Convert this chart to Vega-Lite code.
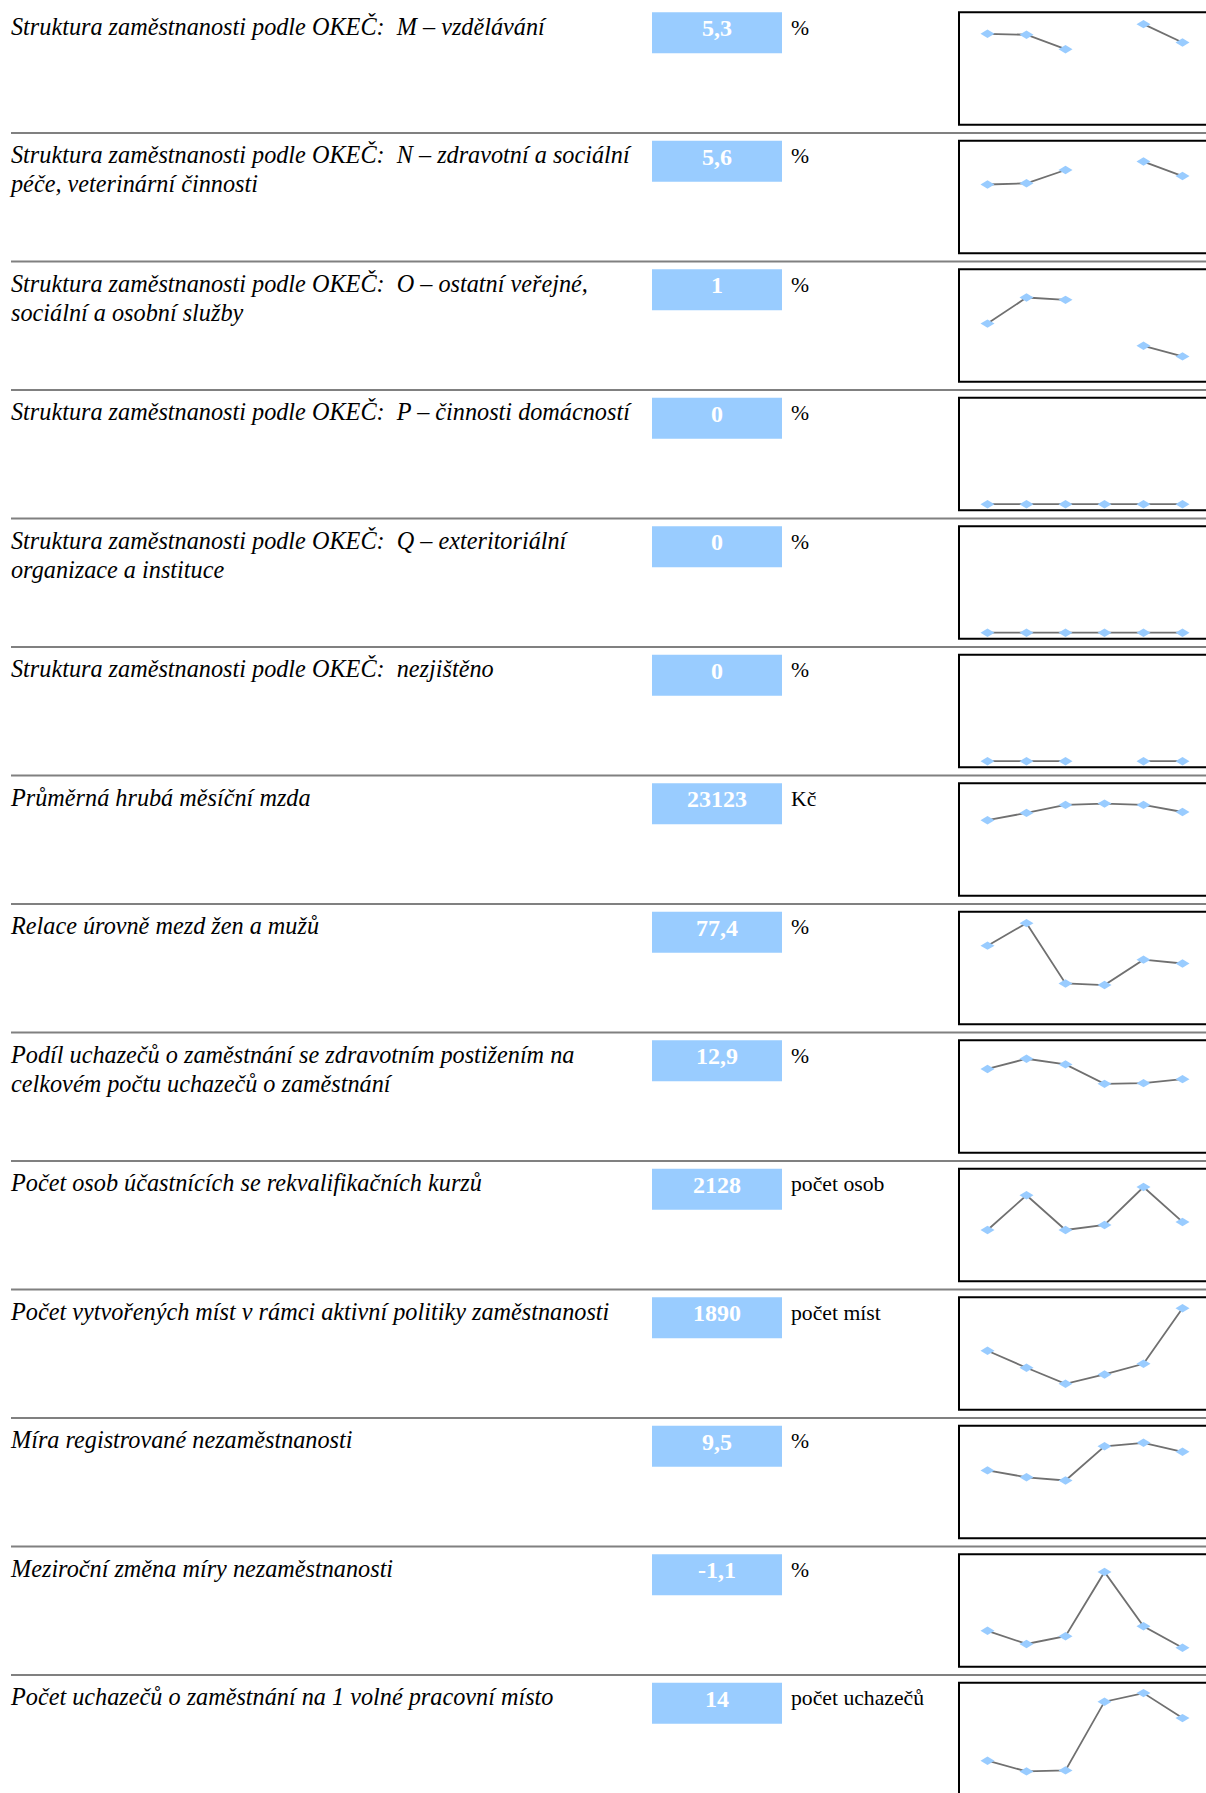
{
"$schema": "https://vega.github.io/schema/vega-lite/v6.json",
"background": "white",
"padding": {"left": 11, "top": 11.2, "right": 0, "bottom": 0},
"config": {"view": {"stroke": null}, "locale": {"number": {"decimal": ",", "thousands": " ", "grouping": [3], "currency": ["", " Kč"], "minus": "-"}}},
"datasets": {
"ukazatele": [
{"id": 1, "popis": "Struktura zaměstnanosti podle OKEČ:\u00a0 M – vzdělávání", "hodnota": 5.3, "jednotka": "%"},
{"id": 2, "popis": "Struktura zaměstnanosti podle OKEČ:\u00a0 N – zdravotní a sociální\npéče, veterinární činnosti", "hodnota": 5.6, "jednotka": "%"},
{"id": 3, "popis": "Struktura zaměstnanosti podle OKEČ:\u00a0 O – ostatní veřejné,\nsociální a osobní služby", "hodnota": 1, "jednotka": "%"},
{"id": 4, "popis": "Struktura zaměstnanosti podle OKEČ:\u00a0 P – činnosti domácností", "hodnota": 0, "jednotka": "%"},
{"id": 5, "popis": "Struktura zaměstnanosti podle OKEČ:\u00a0 Q – exteritoriální\norganizace a instituce", "hodnota": 0, "jednotka": "%"},
{"id": 6, "popis": "Struktura zaměstnanosti podle OKEČ:\u00a0 nezjištěno", "hodnota": 0, "jednotka": "%"},
{"id": 7, "popis": "Průměrná hrubá měsíční mzda", "hodnota": 23123, "jednotka": "Kč"},
{"id": 8, "popis": "Relace úrovně mezd žen a mužů", "hodnota": 77.4, "jednotka": "%"},
{"id": 9, "popis": "Podíl uchazečů o zaměstnání se zdravotním postižením na\ncelkovém počtu uchazečů o zaměstnání", "hodnota": 12.9, "jednotka": "%"},
{"id": 10, "popis": "Počet osob účastnících se rekvalifikačních kurzů", "hodnota": 2128, "jednotka": "počet osob"},
{"id": 11, "popis": "Počet vytvořených míst v rámci aktivní politiky zaměstnanosti", "hodnota": 1890, "jednotka": "počet míst"},
{"id": 12, "popis": "Míra registrované nezaměstnanosti", "hodnota": 9.5, "jednotka": "%"},
{"id": 13, "popis": "Meziroční změna míry nezaměstnanosti", "hodnota": -1.1, "jednotka": "%"},
{"id": 14, "popis": "Počet uchazečů o zaměstnání na 1 volné pracovní místo", "hodnota": 14, "jednotka": "počet uchazečů"}
],
"rady": [
{"id": 1, "rok": 2003, "hodnota": 5.38, "usek": "a"},{"id": 1, "rok": 2004, "hodnota": 5.37, "usek": "a"},{"id": 1, "rok": 2005, "hodnota": 5.22, "usek": "a"},{"id": 1, "rok": 2007, "hodnota": 5.48, "usek": "b"},{"id": 1, "rok": 2008, "hodnota": 5.29, "usek": "b"},
{"id": 2, "rok": 2003, "hodnota": 5.52, "usek": "a"},{"id": 2, "rok": 2004, "hodnota": 5.53, "usek": "a"},{"id": 2, "rok": 2005, "hodnota": 5.64, "usek": "a"},{"id": 2, "rok": 2007, "hodnota": 5.71, "usek": "b"},{"id": 2, "rok": 2008, "hodnota": 5.59, "usek": "b"},
{"id": 3, "rok": 2003, "hodnota": 2.7, "usek": "a"},{"id": 3, "rok": 2004, "hodnota": 4.05, "usek": "a"},{"id": 3, "rok": 2005, "hodnota": 3.93, "usek": "a"},{"id": 3, "rok": 2007, "hodnota": 1.55, "usek": "b"},{"id": 3, "rok": 2008, "hodnota": 1.0, "usek": "b"},
{"id": 4, "rok": 2003, "hodnota": 0, "usek": "a"},{"id": 4, "rok": 2004, "hodnota": 0, "usek": "a"},{"id": 4, "rok": 2005, "hodnota": 0, "usek": "a"},{"id": 4, "rok": 2006, "hodnota": 0, "usek": "a"},{"id": 4, "rok": 2007, "hodnota": 0, "usek": "a"},{"id": 4, "rok": 2008, "hodnota": 0, "usek": "a"},
{"id": 5, "rok": 2003, "hodnota": 0, "usek": "a"},{"id": 5, "rok": 2004, "hodnota": 0, "usek": "a"},{"id": 5, "rok": 2005, "hodnota": 0, "usek": "a"},{"id": 5, "rok": 2006, "hodnota": 0, "usek": "a"},{"id": 5, "rok": 2007, "hodnota": 0, "usek": "a"},{"id": 5, "rok": 2008, "hodnota": 0, "usek": "a"},
{"id": 6, "rok": 2003, "hodnota": 0, "usek": "a"},{"id": 6, "rok": 2004, "hodnota": 0, "usek": "a"},{"id": 6, "rok": 2005, "hodnota": 0, "usek": "a"},{"id": 6, "rok": 2007, "hodnota": 0, "usek": "b"},{"id": 6, "rok": 2008, "hodnota": 0, "usek": "b"},
{"id": 7, "rok": 2003, "hodnota": 22741, "usek": "a"},{"id": 7, "rok": 2004, "hodnota": 23082, "usek": "a"},{"id": 7, "rok": 2005, "hodnota": 23455, "usek": "a"},{"id": 7, "rok": 2006, "hodnota": 23515, "usek": "a"},{"id": 7, "rok": 2007, "hodnota": 23455, "usek": "a"},{"id": 7, "rok": 2008, "hodnota": 23123, "usek": "a"},
{"id": 8, "rok": 2003, "hodnota": 78.51, "usek": "a"},{"id": 8, "rok": 2004, "hodnota": 79.91, "usek": "a"},{"id": 8, "rok": 2005, "hodnota": 76.16, "usek": "a"},{"id": 8, "rok": 2006, "hodnota": 76.06, "usek": "a"},{"id": 8, "rok": 2007, "hodnota": 77.64, "usek": "a"},{"id": 8, "rok": 2008, "hodnota": 77.4, "usek": "a"},
{"id": 9, "rok": 2003, "hodnota": 13.64, "usek": "a"},{"id": 9, "rok": 2004, "hodnota": 14.38, "usek": "a"},{"id": 9, "rok": 2005, "hodnota": 13.97, "usek": "a"},{"id": 9, "rok": 2006, "hodnota": 12.56, "usek": "a"},{"id": 9, "rok": 2007, "hodnota": 12.61, "usek": "a"},{"id": 9, "rok": 2008, "hodnota": 12.9, "usek": "a"},
{"id": 10, "rok": 2003, "hodnota": 1882, "usek": "a"},{"id": 10, "rok": 2004, "hodnota": 2943, "usek": "a"},{"id": 10, "rok": 2005, "hodnota": 1882, "usek": "a"},{"id": 10, "rok": 2006, "hodnota": 2035, "usek": "a"},{"id": 10, "rok": 2007, "hodnota": 3196, "usek": "a"},{"id": 10, "rok": 2008, "hodnota": 2128, "usek": "a"},
{"id": 11, "rok": 2003, "hodnota": 1047, "usek": "a"},{"id": 11, "rok": 2004, "hodnota": 711, "usek": "a"},{"id": 11, "rok": 2005, "hodnota": 394, "usek": "a"},{"id": 11, "rok": 2006, "hodnota": 578, "usek": "a"},{"id": 11, "rok": 2007, "hodnota": 790, "usek": "a"},{"id": 11, "rok": 2008, "hodnota": 1890, "usek": "a"},
{"id": 12, "rok": 2003, "hodnota": 8.69, "usek": "a"},{"id": 12, "rok": 2004, "hodnota": 8.39, "usek": "a"},{"id": 12, "rok": 2005, "hodnota": 8.25, "usek": "a"},{"id": 12, "rok": 2006, "hodnota": 9.74, "usek": "a"},{"id": 12, "rok": 2007, "hodnota": 9.89, "usek": "a"},{"id": 12, "rok": 2008, "hodnota": 9.5, "usek": "a"},
{"id": 13, "rok": 2003, "hodnota": -0.57, "usek": "a"},{"id": 13, "rok": 2004, "hodnota": -0.98, "usek": "a"},{"id": 13, "rok": 2005, "hodnota": -0.74, "usek": "a"},{"id": 13, "rok": 2006, "hodnota": 1.26, "usek": "a"},{"id": 13, "rok": 2007, "hodnota": -0.43, "usek": "a"},{"id": 13, "rok": 2008, "hodnota": -1.1, "usek": "a"},
{"id": 14, "rok": 2003, "hodnota": 5.61, "usek": "a"},{"id": 14, "rok": 2004, "hodnota": 3.5, "usek": "a"},{"id": 14, "rok": 2005, "hodnota": 3.7, "usek": "a"},{"id": 14, "rok": 2006, "hodnota": 17.23, "usek": "a"},{"id": 14, "rok": 2007, "hodnota": 18.92, "usek": "a"},{"id": 14, "rok": 2008, "hodnota": 14, "usek": "a"}
]
},
"spacing": 5.75,
"vconcat": [
{"bounds": "flush", "spacing": 9, "hconcat": [
 {"width": 632, "height": 45.5, "data": {"name": "ukazatele"}, "transform": [{"filter": "datum.id == 1"}], "mark": {"type": "text", "align": "left", "baseline": "alphabetic", "font": "Liberation Serif", "fontStyle": "italic", "fontSize": 24.25, "lineHeight": 28.6, "lineBreak": "\n", "color": "#000000"}, "encoding": {"text": {"field": "popis", "type": "nominal"}, "x": {"datum": 0, "type": "quantitative", "scale": {"domain": [0, 1], "nice": false}, "axis": null}}},
 {"width": 130, "height": 41, "data": {"name": "ukazatele"}, "transform": [{"filter": "datum.id == 1"}], "layer": [{"mark": {"type": "bar", "color": "#99ccff"}, "encoding": {}}, {"mark": {"type": "text", "baseline": "alphabetic", "dy": 3.5, "font": "Liberation Serif", "fontWeight": "bold", "fontSize": 24, "color": "#ffffff"}, "encoding": {"text": {"field": "hodnota", "type": "quantitative", "format": ".1~f"}}}]},
 {"width": 158.7, "height": 45.5, "data": {"name": "ukazatele"}, "transform": [{"filter": "datum.id == 1"}], "mark": {"type": "text", "align": "left", "baseline": "alphabetic", "font": "Liberation Serif", "fontSize": 21.7, "color": "#000000"}, "encoding": {"text": {"field": "jednotka", "type": "nominal"}, "x": {"datum": 0, "type": "quantitative", "scale": {"domain": [0, 1], "nice": false}, "axis": null}}},
 {"width": 252, "height": 112.5, "view": {"stroke": "#000000", "strokeWidth": 2}, "data": {"name": "rady"}, "transform": [{"filter": "datum.id == 1"}], "encoding": {"x": {"field": "rok", "type": "quantitative", "scale": {"domain": [2002.2692, 2008.7308], "nice": false}, "axis": null}, "y": {"field": "hodnota", "type": "quantitative", "scale": {"domain": [4.4378, 5.6036], "nice": false}, "axis": null}}, "layer": [{"mark": {"type": "line", "color": "#707070", "strokeWidth": 1.8}, "encoding": {"detail": {"field": "usek", "type": "nominal"}}}, {"mark": {"type": "point", "shape": "M-1,0L0,-0.6L1,0L0,0.6Z", "filled": true, "color": "#99ccff", "opacity": 1, "size": 196}}]}
]},
{"width": 1200, "height": 2, "data": {"values": [{"oddelovac": 1}]}, "mark": {"type": "bar", "color": "#808080"}, "encoding": {}},
{"bounds": "flush", "spacing": 9, "hconcat": [
 {"width": 632, "height": 45.5, "data": {"name": "ukazatele"}, "transform": [{"filter": "datum.id == 2"}], "mark": {"type": "text", "align": "left", "baseline": "alphabetic", "font": "Liberation Serif", "fontStyle": "italic", "fontSize": 24.25, "lineHeight": 28.6, "lineBreak": "\n", "color": "#000000"}, "encoding": {"text": {"field": "popis", "type": "nominal"}, "x": {"datum": 0, "type": "quantitative", "scale": {"domain": [0, 1], "nice": false}, "axis": null}}},
 {"width": 130, "height": 41, "data": {"name": "ukazatele"}, "transform": [{"filter": "datum.id == 2"}], "layer": [{"mark": {"type": "bar", "color": "#99ccff"}, "encoding": {}}, {"mark": {"type": "text", "baseline": "alphabetic", "dy": 3.5, "font": "Liberation Serif", "fontWeight": "bold", "fontSize": 24, "color": "#ffffff"}, "encoding": {"text": {"field": "hodnota", "type": "quantitative", "format": ".1~f"}}}]},
 {"width": 158.7, "height": 45.5, "data": {"name": "ukazatele"}, "transform": [{"filter": "datum.id == 2"}], "mark": {"type": "text", "align": "left", "baseline": "alphabetic", "font": "Liberation Serif", "fontSize": 21.7, "color": "#000000"}, "encoding": {"text": {"field": "jednotka", "type": "nominal"}, "x": {"datum": 0, "type": "quantitative", "scale": {"domain": [0, 1], "nice": false}, "axis": null}}},
 {"width": 252, "height": 112.5, "view": {"stroke": "#000000", "strokeWidth": 2}, "data": {"name": "rady"}, "transform": [{"filter": "datum.id == 2"}], "encoding": {"x": {"field": "rok", "type": "quantitative", "scale": {"domain": [2002.2692, 2008.7308], "nice": false}, "axis": null}, "y": {"field": "hodnota", "type": "quantitative", "scale": {"domain": [4.9503, 5.8829], "nice": false}, "axis": null}}, "layer": [{"mark": {"type": "line", "color": "#707070", "strokeWidth": 1.8}, "encoding": {"detail": {"field": "usek", "type": "nominal"}}}, {"mark": {"type": "point", "shape": "M-1,0L0,-0.6L1,0L0,0.6Z", "filled": true, "color": "#99ccff", "opacity": 1, "size": 196}}]}
]},
{"width": 1200, "height": 2, "data": {"values": [{"oddelovac": 1}]}, "mark": {"type": "bar", "color": "#808080"}, "encoding": {}},
{"bounds": "flush", "spacing": 9, "hconcat": [
 {"width": 632, "height": 45.5, "data": {"name": "ukazatele"}, "transform": [{"filter": "datum.id == 3"}], "mark": {"type": "text", "align": "left", "baseline": "alphabetic", "font": "Liberation Serif", "fontStyle": "italic", "fontSize": 24.25, "lineHeight": 28.6, "lineBreak": "\n", "color": "#000000"}, "encoding": {"text": {"field": "popis", "type": "nominal"}, "x": {"datum": 0, "type": "quantitative", "scale": {"domain": [0, 1], "nice": false}, "axis": null}}},
 {"width": 130, "height": 41, "data": {"name": "ukazatele"}, "transform": [{"filter": "datum.id == 3"}], "layer": [{"mark": {"type": "bar", "color": "#99ccff"}, "encoding": {}}, {"mark": {"type": "text", "baseline": "alphabetic", "dy": 3.5, "font": "Liberation Serif", "fontWeight": "bold", "fontSize": 24, "color": "#ffffff"}, "encoding": {"text": {"field": "hodnota", "type": "quantitative", "format": ".1~f"}}}]},
 {"width": 158.7, "height": 45.5, "data": {"name": "ukazatele"}, "transform": [{"filter": "datum.id == 3"}], "mark": {"type": "text", "align": "left", "baseline": "alphabetic", "font": "Liberation Serif", "fontSize": 21.7, "color": "#000000"}, "encoding": {"text": {"field": "jednotka", "type": "nominal"}, "x": {"datum": 0, "type": "quantitative", "scale": {"domain": [0, 1], "nice": false}, "axis": null}}},
 {"width": 252, "height": 112.5, "view": {"stroke": "#000000", "strokeWidth": 2}, "data": {"name": "rady"}, "transform": [{"filter": "datum.id == 3"}], "encoding": {"x": {"field": "rok", "type": "quantitative", "scale": {"domain": [2002.2692, 2008.7308], "nice": false}, "axis": null}, "y": {"field": "hodnota", "type": "quantitative", "scale": {"domain": [-0.3109, 5.5181], "nice": false}, "axis": null}}, "layer": [{"mark": {"type": "line", "color": "#707070", "strokeWidth": 1.8}, "encoding": {"detail": {"field": "usek", "type": "nominal"}}}, {"mark": {"type": "point", "shape": "M-1,0L0,-0.6L1,0L0,0.6Z", "filled": true, "color": "#99ccff", "opacity": 1, "size": 196}}]}
]},
{"width": 1200, "height": 2, "data": {"values": [{"oddelovac": 1}]}, "mark": {"type": "bar", "color": "#808080"}, "encoding": {}},
{"bounds": "flush", "spacing": 9, "hconcat": [
 {"width": 632, "height": 45.5, "data": {"name": "ukazatele"}, "transform": [{"filter": "datum.id == 4"}], "mark": {"type": "text", "align": "left", "baseline": "alphabetic", "font": "Liberation Serif", "fontStyle": "italic", "fontSize": 24.25, "lineHeight": 28.6, "lineBreak": "\n", "color": "#000000"}, "encoding": {"text": {"field": "popis", "type": "nominal"}, "x": {"datum": 0, "type": "quantitative", "scale": {"domain": [0, 1], "nice": false}, "axis": null}}},
 {"width": 130, "height": 41, "data": {"name": "ukazatele"}, "transform": [{"filter": "datum.id == 4"}], "layer": [{"mark": {"type": "bar", "color": "#99ccff"}, "encoding": {}}, {"mark": {"type": "text", "baseline": "alphabetic", "dy": 3.5, "font": "Liberation Serif", "fontWeight": "bold", "fontSize": 24, "color": "#ffffff"}, "encoding": {"text": {"field": "hodnota", "type": "quantitative", "format": ".1~f"}}}]},
 {"width": 158.7, "height": 45.5, "data": {"name": "ukazatele"}, "transform": [{"filter": "datum.id == 4"}], "mark": {"type": "text", "align": "left", "baseline": "alphabetic", "font": "Liberation Serif", "fontSize": 21.7, "color": "#000000"}, "encoding": {"text": {"field": "jednotka", "type": "nominal"}, "x": {"datum": 0, "type": "quantitative", "scale": {"domain": [0, 1], "nice": false}, "axis": null}}},
 {"width": 252, "height": 112.5, "view": {"stroke": "#000000", "strokeWidth": 2}, "data": {"name": "rady"}, "transform": [{"filter": "datum.id == 4"}], "encoding": {"x": {"field": "rok", "type": "quantitative", "scale": {"domain": [2002.2692, 2008.7308], "nice": false}, "axis": null}, "y": {"field": "hodnota", "type": "quantitative", "scale": {"domain": [-0.0622, 1.1036], "nice": false}, "axis": null}}, "layer": [{"mark": {"type": "line", "color": "#707070", "strokeWidth": 1.8}, "encoding": {"detail": {"field": "usek", "type": "nominal"}}}, {"mark": {"type": "point", "shape": "M-1,0L0,-0.6L1,0L0,0.6Z", "filled": true, "color": "#99ccff", "opacity": 1, "size": 196}}]}
]},
{"width": 1200, "height": 2, "data": {"values": [{"oddelovac": 1}]}, "mark": {"type": "bar", "color": "#808080"}, "encoding": {}},
{"bounds": "flush", "spacing": 9, "hconcat": [
 {"width": 632, "height": 45.5, "data": {"name": "ukazatele"}, "transform": [{"filter": "datum.id == 5"}], "mark": {"type": "text", "align": "left", "baseline": "alphabetic", "font": "Liberation Serif", "fontStyle": "italic", "fontSize": 24.25, "lineHeight": 28.6, "lineBreak": "\n", "color": "#000000"}, "encoding": {"text": {"field": "popis", "type": "nominal"}, "x": {"datum": 0, "type": "quantitative", "scale": {"domain": [0, 1], "nice": false}, "axis": null}}},
 {"width": 130, "height": 41, "data": {"name": "ukazatele"}, "transform": [{"filter": "datum.id == 5"}], "layer": [{"mark": {"type": "bar", "color": "#99ccff"}, "encoding": {}}, {"mark": {"type": "text", "baseline": "alphabetic", "dy": 3.5, "font": "Liberation Serif", "fontWeight": "bold", "fontSize": 24, "color": "#ffffff"}, "encoding": {"text": {"field": "hodnota", "type": "quantitative", "format": ".1~f"}}}]},
 {"width": 158.7, "height": 45.5, "data": {"name": "ukazatele"}, "transform": [{"filter": "datum.id == 5"}], "mark": {"type": "text", "align": "left", "baseline": "alphabetic", "font": "Liberation Serif", "fontSize": 21.7, "color": "#000000"}, "encoding": {"text": {"field": "jednotka", "type": "nominal"}, "x": {"datum": 0, "type": "quantitative", "scale": {"domain": [0, 1], "nice": false}, "axis": null}}},
 {"width": 252, "height": 112.5, "view": {"stroke": "#000000", "strokeWidth": 2}, "data": {"name": "rady"}, "transform": [{"filter": "datum.id == 5"}], "encoding": {"x": {"field": "rok", "type": "quantitative", "scale": {"domain": [2002.2692, 2008.7308], "nice": false}, "axis": null}, "y": {"field": "hodnota", "type": "quantitative", "scale": {"domain": [-0.0622, 1.1036], "nice": false}, "axis": null}}, "layer": [{"mark": {"type": "line", "color": "#707070", "strokeWidth": 1.8}, "encoding": {"detail": {"field": "usek", "type": "nominal"}}}, {"mark": {"type": "point", "shape": "M-1,0L0,-0.6L1,0L0,0.6Z", "filled": true, "color": "#99ccff", "opacity": 1, "size": 196}}]}
]},
{"width": 1200, "height": 2, "data": {"values": [{"oddelovac": 1}]}, "mark": {"type": "bar", "color": "#808080"}, "encoding": {}},
{"bounds": "flush", "spacing": 9, "hconcat": [
 {"width": 632, "height": 45.5, "data": {"name": "ukazatele"}, "transform": [{"filter": "datum.id == 6"}], "mark": {"type": "text", "align": "left", "baseline": "alphabetic", "font": "Liberation Serif", "fontStyle": "italic", "fontSize": 24.25, "lineHeight": 28.6, "lineBreak": "\n", "color": "#000000"}, "encoding": {"text": {"field": "popis", "type": "nominal"}, "x": {"datum": 0, "type": "quantitative", "scale": {"domain": [0, 1], "nice": false}, "axis": null}}},
 {"width": 130, "height": 41, "data": {"name": "ukazatele"}, "transform": [{"filter": "datum.id == 6"}], "layer": [{"mark": {"type": "bar", "color": "#99ccff"}, "encoding": {}}, {"mark": {"type": "text", "baseline": "alphabetic", "dy": 3.5, "font": "Liberation Serif", "fontWeight": "bold", "fontSize": 24, "color": "#ffffff"}, "encoding": {"text": {"field": "hodnota", "type": "quantitative", "format": ".1~f"}}}]},
 {"width": 158.7, "height": 45.5, "data": {"name": "ukazatele"}, "transform": [{"filter": "datum.id == 6"}], "mark": {"type": "text", "align": "left", "baseline": "alphabetic", "font": "Liberation Serif", "fontSize": 21.7, "color": "#000000"}, "encoding": {"text": {"field": "jednotka", "type": "nominal"}, "x": {"datum": 0, "type": "quantitative", "scale": {"domain": [0, 1], "nice": false}, "axis": null}}},
 {"width": 252, "height": 112.5, "view": {"stroke": "#000000", "strokeWidth": 2}, "data": {"name": "rady"}, "transform": [{"filter": "datum.id == 6"}], "encoding": {"x": {"field": "rok", "type": "quantitative", "scale": {"domain": [2002.2692, 2008.7308], "nice": false}, "axis": null}, "y": {"field": "hodnota", "type": "quantitative", "scale": {"domain": [-0.0622, 1.1036], "nice": false}, "axis": null}}, "layer": [{"mark": {"type": "line", "color": "#707070", "strokeWidth": 1.8}, "encoding": {"detail": {"field": "usek", "type": "nominal"}}}, {"mark": {"type": "point", "shape": "M-1,0L0,-0.6L1,0L0,0.6Z", "filled": true, "color": "#99ccff", "opacity": 1, "size": 196}}]}
]},
{"width": 1200, "height": 2, "data": {"values": [{"oddelovac": 1}]}, "mark": {"type": "bar", "color": "#808080"}, "encoding": {}},
{"bounds": "flush", "spacing": 9, "hconcat": [
 {"width": 632, "height": 45.5, "data": {"name": "ukazatele"}, "transform": [{"filter": "datum.id == 7"}], "mark": {"type": "text", "align": "left", "baseline": "alphabetic", "font": "Liberation Serif", "fontStyle": "italic", "fontSize": 24.25, "lineHeight": 28.6, "lineBreak": "\n", "color": "#000000"}, "encoding": {"text": {"field": "popis", "type": "nominal"}, "x": {"datum": 0, "type": "quantitative", "scale": {"domain": [0, 1], "nice": false}, "axis": null}}},
 {"width": 130, "height": 41, "data": {"name": "ukazatele"}, "transform": [{"filter": "datum.id == 7"}], "layer": [{"mark": {"type": "bar", "color": "#99ccff"}, "encoding": {}}, {"mark": {"type": "text", "baseline": "alphabetic", "dy": 3.5, "font": "Liberation Serif", "fontWeight": "bold", "fontSize": 24, "color": "#ffffff"}, "encoding": {"text": {"field": "hodnota", "type": "quantitative", "format": ".1~f"}}}]},
 {"width": 158.7, "height": 45.5, "data": {"name": "ukazatele"}, "transform": [{"filter": "datum.id == 7"}], "mark": {"type": "text", "align": "left", "baseline": "alphabetic", "font": "Liberation Serif", "fontSize": 21.7, "color": "#000000"}, "encoding": {"text": {"field": "jednotka", "type": "nominal"}, "x": {"datum": 0, "type": "quantitative", "scale": {"domain": [0, 1], "nice": false}, "axis": null}}},
 {"width": 252, "height": 112.5, "view": {"stroke": "#000000", "strokeWidth": 2}, "data": {"name": "rady"}, "transform": [{"filter": "datum.id == 7"}], "encoding": {"x": {"field": "rok", "type": "quantitative", "scale": {"domain": [2002.2692, 2008.7308], "nice": false}, "axis": null}, "y": {"field": "hodnota", "type": "quantitative", "scale": {"domain": [19220.2, 24466.3], "nice": false}, "axis": null}}, "layer": [{"mark": {"type": "line", "color": "#707070", "strokeWidth": 1.8}, "encoding": {"detail": {"field": "usek", "type": "nominal"}}}, {"mark": {"type": "point", "shape": "M-1,0L0,-0.6L1,0L0,0.6Z", "filled": true, "color": "#99ccff", "opacity": 1, "size": 196}}]}
]},
{"width": 1200, "height": 2, "data": {"values": [{"oddelovac": 1}]}, "mark": {"type": "bar", "color": "#808080"}, "encoding": {}},
{"bounds": "flush", "spacing": 9, "hconcat": [
 {"width": 632, "height": 45.5, "data": {"name": "ukazatele"}, "transform": [{"filter": "datum.id == 8"}], "mark": {"type": "text", "align": "left", "baseline": "alphabetic", "font": "Liberation Serif", "fontStyle": "italic", "fontSize": 24.25, "lineHeight": 28.6, "lineBreak": "\n", "color": "#000000"}, "encoding": {"text": {"field": "popis", "type": "nominal"}, "x": {"datum": 0, "type": "quantitative", "scale": {"domain": [0, 1], "nice": false}, "axis": null}}},
 {"width": 130, "height": 41, "data": {"name": "ukazatele"}, "transform": [{"filter": "datum.id == 8"}], "layer": [{"mark": {"type": "bar", "color": "#99ccff"}, "encoding": {}}, {"mark": {"type": "text", "baseline": "alphabetic", "dy": 3.5, "font": "Liberation Serif", "fontWeight": "bold", "fontSize": 24, "color": "#ffffff"}, "encoding": {"text": {"field": "hodnota", "type": "quantitative", "format": ".1~f"}}}]},
 {"width": 158.7, "height": 45.5, "data": {"name": "ukazatele"}, "transform": [{"filter": "datum.id == 8"}], "mark": {"type": "text", "align": "left", "baseline": "alphabetic", "font": "Liberation Serif", "fontSize": 21.7, "color": "#000000"}, "encoding": {"text": {"field": "jednotka", "type": "nominal"}, "x": {"datum": 0, "type": "quantitative", "scale": {"domain": [0, 1], "nice": false}, "axis": null}}},
 {"width": 252, "height": 112.5, "view": {"stroke": "#000000", "strokeWidth": 2}, "data": {"name": "rady"}, "transform": [{"filter": "datum.id == 8"}], "encoding": {"x": {"field": "rok", "type": "quantitative", "scale": {"domain": [2002.2692, 2008.7308], "nice": false}, "axis": null}, "y": {"field": "hodnota", "type": "quantitative", "scale": {"domain": [73.6269, 80.6218], "nice": false}, "axis": null}}, "layer": [{"mark": {"type": "line", "color": "#707070", "strokeWidth": 1.8}, "encoding": {"detail": {"field": "usek", "type": "nominal"}}}, {"mark": {"type": "point", "shape": "M-1,0L0,-0.6L1,0L0,0.6Z", "filled": true, "color": "#99ccff", "opacity": 1, "size": 196}}]}
]},
{"width": 1200, "height": 2, "data": {"values": [{"oddelovac": 1}]}, "mark": {"type": "bar", "color": "#808080"}, "encoding": {}},
{"bounds": "flush", "spacing": 9, "hconcat": [
 {"width": 632, "height": 45.5, "data": {"name": "ukazatele"}, "transform": [{"filter": "datum.id == 9"}], "mark": {"type": "text", "align": "left", "baseline": "alphabetic", "font": "Liberation Serif", "fontStyle": "italic", "fontSize": 24.25, "lineHeight": 28.6, "lineBreak": "\n", "color": "#000000"}, "encoding": {"text": {"field": "popis", "type": "nominal"}, "x": {"datum": 0, "type": "quantitative", "scale": {"domain": [0, 1], "nice": false}, "axis": null}}},
 {"width": 130, "height": 41, "data": {"name": "ukazatele"}, "transform": [{"filter": "datum.id == 9"}], "layer": [{"mark": {"type": "bar", "color": "#99ccff"}, "encoding": {}}, {"mark": {"type": "text", "baseline": "alphabetic", "dy": 3.5, "font": "Liberation Serif", "fontWeight": "bold", "fontSize": 24, "color": "#ffffff"}, "encoding": {"text": {"field": "hodnota", "type": "quantitative", "format": ".1~f"}}}]},
 {"width": 158.7, "height": 45.5, "data": {"name": "ukazatele"}, "transform": [{"filter": "datum.id == 9"}], "mark": {"type": "text", "align": "left", "baseline": "alphabetic", "font": "Liberation Serif", "fontSize": 21.7, "color": "#000000"}, "encoding": {"text": {"field": "jednotka", "type": "nominal"}, "x": {"datum": 0, "type": "quantitative", "scale": {"domain": [0, 1], "nice": false}, "axis": null}}},
 {"width": 252, "height": 112.5, "view": {"stroke": "#000000", "strokeWidth": 2}, "data": {"name": "rady"}, "transform": [{"filter": "datum.id == 9"}], "encoding": {"x": {"field": "rok", "type": "quantitative", "scale": {"domain": [2002.2692, 2008.7308], "nice": false}, "axis": null}, "y": {"field": "hodnota", "type": "quantitative", "scale": {"domain": [7.5647, 15.7254], "nice": false}, "axis": null}}, "layer": [{"mark": {"type": "line", "color": "#707070", "strokeWidth": 1.8}, "encoding": {"detail": {"field": "usek", "type": "nominal"}}}, {"mark": {"type": "point", "shape": "M-1,0L0,-0.6L1,0L0,0.6Z", "filled": true, "color": "#99ccff", "opacity": 1, "size": 196}}]}
]},
{"width": 1200, "height": 2, "data": {"values": [{"oddelovac": 1}]}, "mark": {"type": "bar", "color": "#808080"}, "encoding": {}},
{"bounds": "flush", "spacing": 9, "hconcat": [
 {"width": 632, "height": 45.5, "data": {"name": "ukazatele"}, "transform": [{"filter": "datum.id == 10"}], "mark": {"type": "text", "align": "left", "baseline": "alphabetic", "font": "Liberation Serif", "fontStyle": "italic", "fontSize": 24.25, "lineHeight": 28.6, "lineBreak": "\n", "color": "#000000"}, "encoding": {"text": {"field": "popis", "type": "nominal"}, "x": {"datum": 0, "type": "quantitative", "scale": {"domain": [0, 1], "nice": false}, "axis": null}}},
 {"width": 130, "height": 41, "data": {"name": "ukazatele"}, "transform": [{"filter": "datum.id == 10"}], "layer": [{"mark": {"type": "bar", "color": "#99ccff"}, "encoding": {}}, {"mark": {"type": "text", "baseline": "alphabetic", "dy": 3.5, "font": "Liberation Serif", "fontWeight": "bold", "fontSize": 24, "color": "#ffffff"}, "encoding": {"text": {"field": "hodnota", "type": "quantitative", "format": ".1~f"}}}]},
 {"width": 158.7, "height": 45.5, "data": {"name": "ukazatele"}, "transform": [{"filter": "datum.id == 10"}], "mark": {"type": "text", "align": "left", "baseline": "alphabetic", "font": "Liberation Serif", "fontSize": 21.7, "color": "#000000"}, "encoding": {"text": {"field": "jednotka", "type": "nominal"}, "x": {"datum": 0, "type": "quantitative", "scale": {"domain": [0, 1], "nice": false}, "axis": null}}},
 {"width": 252, "height": 112.5, "view": {"stroke": "#000000", "strokeWidth": 2}, "data": {"name": "rady"}, "transform": [{"filter": "datum.id == 10"}], "encoding": {"x": {"field": "rok", "type": "quantitative", "scale": {"domain": [2002.2692, 2008.7308], "nice": false}, "axis": null}, "y": {"field": "hodnota", "type": "quantitative", "scale": {"domain": [316.6, 3755.7], "nice": false}, "axis": null}}, "layer": [{"mark": {"type": "line", "color": "#707070", "strokeWidth": 1.8}, "encoding": {"detail": {"field": "usek", "type": "nominal"}}}, {"mark": {"type": "point", "shape": "M-1,0L0,-0.6L1,0L0,0.6Z", "filled": true, "color": "#99ccff", "opacity": 1, "size": 196}}]}
]},
{"width": 1200, "height": 2, "data": {"values": [{"oddelovac": 1}]}, "mark": {"type": "bar", "color": "#808080"}, "encoding": {}},
{"bounds": "flush", "spacing": 9, "hconcat": [
 {"width": 632, "height": 45.5, "data": {"name": "ukazatele"}, "transform": [{"filter": "datum.id == 11"}], "mark": {"type": "text", "align": "left", "baseline": "alphabetic", "font": "Liberation Serif", "fontStyle": "italic", "fontSize": 24.25, "lineHeight": 28.6, "lineBreak": "\n", "color": "#000000"}, "encoding": {"text": {"field": "popis", "type": "nominal"}, "x": {"datum": 0, "type": "quantitative", "scale": {"domain": [0, 1], "nice": false}, "axis": null}}},
 {"width": 130, "height": 41, "data": {"name": "ukazatele"}, "transform": [{"filter": "datum.id == 11"}], "layer": [{"mark": {"type": "bar", "color": "#99ccff"}, "encoding": {}}, {"mark": {"type": "text", "baseline": "alphabetic", "dy": 3.5, "font": "Liberation Serif", "fontWeight": "bold", "fontSize": 24, "color": "#ffffff"}, "encoding": {"text": {"field": "hodnota", "type": "quantitative", "format": ".1~f"}}}]},
 {"width": 158.7, "height": 45.5, "data": {"name": "ukazatele"}, "transform": [{"filter": "datum.id == 11"}], "mark": {"type": "text", "align": "left", "baseline": "alphabetic", "font": "Liberation Serif", "fontSize": 21.7, "color": "#000000"}, "encoding": {"text": {"field": "jednotka", "type": "nominal"}, "x": {"datum": 0, "type": "quantitative", "scale": {"domain": [0, 1], "nice": false}, "axis": null}}},
 {"width": 252, "height": 112.5, "view": {"stroke": "#000000", "strokeWidth": 2}, "data": {"name": "rady"}, "transform": [{"filter": "datum.id == 11"}], "encoding": {"x": {"field": "rok", "type": "quantitative", "scale": {"domain": [2002.2692, 2008.7308], "nice": false}, "axis": null}, "y": {"field": "hodnota", "type": "quantitative", "scale": {"domain": [-118.8, 2107.9], "nice": false}, "axis": null}}, "layer": [{"mark": {"type": "line", "color": "#707070", "strokeWidth": 1.8}, "encoding": {"detail": {"field": "usek", "type": "nominal"}}}, {"mark": {"type": "point", "shape": "M-1,0L0,-0.6L1,0L0,0.6Z", "filled": true, "color": "#99ccff", "opacity": 1, "size": 196}}]}
]},
{"width": 1200, "height": 2, "data": {"values": [{"oddelovac": 1}]}, "mark": {"type": "bar", "color": "#808080"}, "encoding": {}},
{"bounds": "flush", "spacing": 9, "hconcat": [
 {"width": 632, "height": 45.5, "data": {"name": "ukazatele"}, "transform": [{"filter": "datum.id == 12"}], "mark": {"type": "text", "align": "left", "baseline": "alphabetic", "font": "Liberation Serif", "fontStyle": "italic", "fontSize": 24.25, "lineHeight": 28.6, "lineBreak": "\n", "color": "#000000"}, "encoding": {"text": {"field": "popis", "type": "nominal"}, "x": {"datum": 0, "type": "quantitative", "scale": {"domain": [0, 1], "nice": false}, "axis": null}}},
 {"width": 130, "height": 41, "data": {"name": "ukazatele"}, "transform": [{"filter": "datum.id == 12"}], "layer": [{"mark": {"type": "bar", "color": "#99ccff"}, "encoding": {}}, {"mark": {"type": "text", "baseline": "alphabetic", "dy": 3.5, "font": "Liberation Serif", "fontWeight": "bold", "fontSize": 24, "color": "#ffffff"}, "encoding": {"text": {"field": "hodnota", "type": "quantitative", "format": ".1~f"}}}]},
 {"width": 158.7, "height": 45.5, "data": {"name": "ukazatele"}, "transform": [{"filter": "datum.id == 12"}], "mark": {"type": "text", "align": "left", "baseline": "alphabetic", "font": "Liberation Serif", "fontSize": 21.7, "color": "#000000"}, "encoding": {"text": {"field": "jednotka", "type": "nominal"}, "x": {"datum": 0, "type": "quantitative", "scale": {"domain": [0, 1], "nice": false}, "axis": null}}},
 {"width": 252, "height": 112.5, "view": {"stroke": "#000000", "strokeWidth": 2}, "data": {"name": "rady"}, "transform": [{"filter": "datum.id == 12"}], "encoding": {"x": {"field": "rok", "type": "quantitative", "scale": {"domain": [2002.2692, 2008.7308], "nice": false}, "axis": null}, "y": {"field": "hodnota", "type": "quantitative", "scale": {"domain": [5.7388, 10.6352], "nice": false}, "axis": null}}, "layer": [{"mark": {"type": "line", "color": "#707070", "strokeWidth": 1.8}, "encoding": {"detail": {"field": "usek", "type": "nominal"}}}, {"mark": {"type": "point", "shape": "M-1,0L0,-0.6L1,0L0,0.6Z", "filled": true, "color": "#99ccff", "opacity": 1, "size": 196}}]}
]},
{"width": 1200, "height": 2, "data": {"values": [{"oddelovac": 1}]}, "mark": {"type": "bar", "color": "#808080"}, "encoding": {}},
{"bounds": "flush", "spacing": 9, "hconcat": [
 {"width": 632, "height": 45.5, "data": {"name": "ukazatele"}, "transform": [{"filter": "datum.id == 13"}], "mark": {"type": "text", "align": "left", "baseline": "alphabetic", "font": "Liberation Serif", "fontStyle": "italic", "fontSize": 24.25, "lineHeight": 28.6, "lineBreak": "\n", "color": "#000000"}, "encoding": {"text": {"field": "popis", "type": "nominal"}, "x": {"datum": 0, "type": "quantitative", "scale": {"domain": [0, 1], "nice": false}, "axis": null}}},
 {"width": 130, "height": 41, "data": {"name": "ukazatele"}, "transform": [{"filter": "datum.id == 13"}], "layer": [{"mark": {"type": "bar", "color": "#99ccff"}, "encoding": {}}, {"mark": {"type": "text", "baseline": "alphabetic", "dy": 3.5, "font": "Liberation Serif", "fontWeight": "bold", "fontSize": 24, "color": "#ffffff"}, "encoding": {"text": {"field": "hodnota", "type": "quantitative", "format": ".1~f"}}}]},
 {"width": 158.7, "height": 45.5, "data": {"name": "ukazatele"}, "transform": [{"filter": "datum.id == 13"}], "mark": {"type": "text", "align": "left", "baseline": "alphabetic", "font": "Liberation Serif", "fontSize": 21.7, "color": "#000000"}, "encoding": {"text": {"field": "jednotka", "type": "nominal"}, "x": {"datum": 0, "type": "quantitative", "scale": {"domain": [0, 1], "nice": false}, "axis": null}}},
 {"width": 252, "height": 112.5, "view": {"stroke": "#000000", "strokeWidth": 2}, "data": {"name": "rady"}, "transform": [{"filter": "datum.id == 13"}], "encoding": {"x": {"field": "rok", "type": "quantitative", "scale": {"domain": [2002.2692, 2008.7308], "nice": false}, "axis": null}, "y": {"field": "hodnota", "type": "quantitative", "scale": {"domain": [-1.6865, 1.8109], "nice": false}, "axis": null}}, "layer": [{"mark": {"type": "line", "color": "#707070", "strokeWidth": 1.8}, "encoding": {"detail": {"field": "usek", "type": "nominal"}}}, {"mark": {"type": "point", "shape": "M-1,0L0,-0.6L1,0L0,0.6Z", "filled": true, "color": "#99ccff", "opacity": 1, "size": 196}}]}
]},
{"width": 1200, "height": 2, "data": {"values": [{"oddelovac": 1}]}, "mark": {"type": "bar", "color": "#808080"}, "encoding": {}},
{"bounds": "flush", "spacing": 9, "hconcat": [
 {"width": 632, "height": 45.5, "data": {"name": "ukazatele"}, "transform": [{"filter": "datum.id == 14"}], "mark": {"type": "text", "align": "left", "baseline": "alphabetic", "font": "Liberation Serif", "fontStyle": "italic", "fontSize": 24.25, "lineHeight": 28.6, "lineBreak": "\n", "color": "#000000"}, "encoding": {"text": {"field": "popis", "type": "nominal"}, "x": {"datum": 0, "type": "quantitative", "scale": {"domain": [0, 1], "nice": false}, "axis": null}}},
 {"width": 130, "height": 41, "data": {"name": "ukazatele"}, "transform": [{"filter": "datum.id == 14"}], "layer": [{"mark": {"type": "bar", "color": "#99ccff"}, "encoding": {}}, {"mark": {"type": "text", "baseline": "alphabetic", "dy": 3.5, "font": "Liberation Serif", "fontWeight": "bold", "fontSize": 24, "color": "#ffffff"}, "encoding": {"text": {"field": "hodnota", "type": "quantitative", "format": ".1~f"}}}]},
 {"width": 158.7, "height": 45.5, "data": {"name": "ukazatele"}, "transform": [{"filter": "datum.id == 14"}], "mark": {"type": "text", "align": "left", "baseline": "alphabetic", "font": "Liberation Serif", "fontSize": 21.7, "color": "#000000"}, "encoding": {"text": {"field": "jednotka", "type": "nominal"}, "x": {"datum": 0, "type": "quantitative", "scale": {"domain": [0, 1], "nice": false}, "axis": null}}},
 {"width": 252, "height": 112.5, "view": {"stroke": "#000000", "strokeWidth": 2}, "data": {"name": "rady"}, "transform": [{"filter": "datum.id == 14"}], "encoding": {"x": {"field": "rok", "type": "quantitative", "scale": {"domain": [2002.2692, 2008.7308], "nice": false}, "axis": null}, "y": {"field": "hodnota", "type": "quantitative", "scale": {"domain": [-1.1814, 20.9689], "nice": false}, "axis": null}}, "layer": [{"mark": {"type": "line", "color": "#707070", "strokeWidth": 1.8}, "encoding": {"detail": {"field": "usek", "type": "nominal"}}}, {"mark": {"type": "point", "shape": "M-1,0L0,-0.6L1,0L0,0.6Z", "filled": true, "color": "#99ccff", "opacity": 1, "size": 196}}]}
]}
]
}
